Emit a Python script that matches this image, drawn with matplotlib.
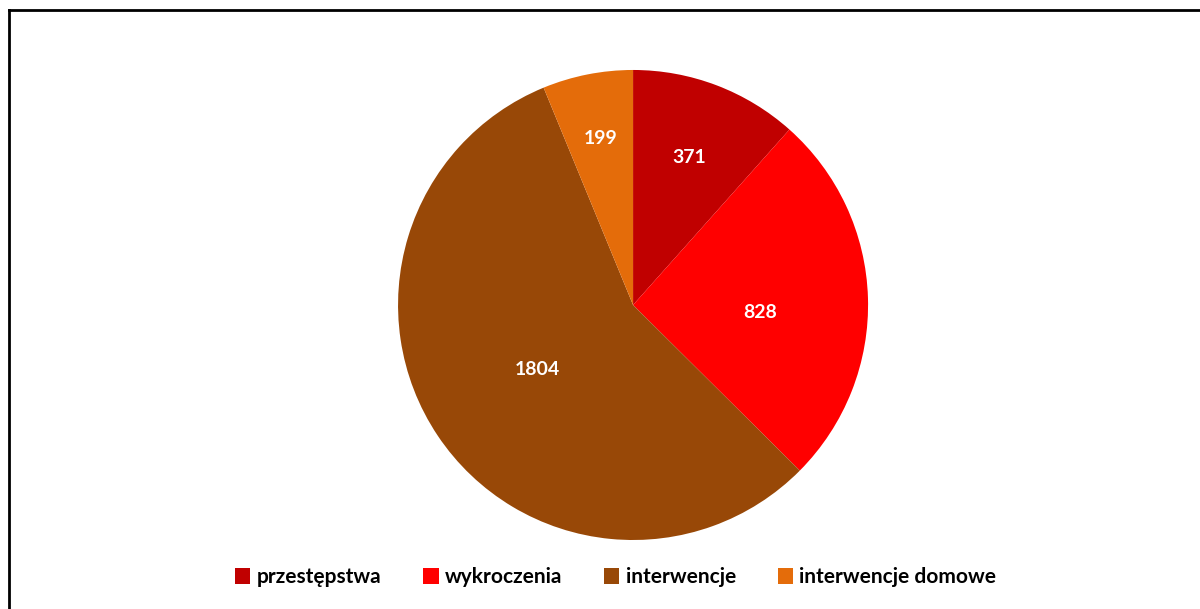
import matplotlib.pyplot as plt
import numpy as np
from matplotlib.lines import Line2D

categories = ["przestępstwa", "wykroczenia", "interwencje", "interwencje domowe"]
values = [371, 828, 1804, 199]
colors = ["#C00000", "#FF0000", "#984807", "#E46C0A"]
label_dist = [0.67, 0.54, 0.49, 0.72]
label_turn = [0, -5, 0, 0]

plt.rcParams['font.family'] = ['Lato', 'DejaVu Sans']

fig = plt.figure(figsize=(12, 6.09), dpi=100)
ax = fig.add_axes([0.3317, 0.1133, 0.3917, 0.7718])

wedges, _ = ax.pie(values, colors=colors, startangle=90, counterclock=False,
                   radius=1.0)
ax.set_xlim(-1, 1)
ax.set_ylim(-1, 1)
ax.set_aspect('equal')

for w, v, d, t in zip(wedges, values, label_dist, label_turn):
    ang = np.deg2rad((w.theta1 + w.theta2) / 2 + t)
    ax.text(d * np.cos(ang), d * np.sin(ang), str(v), ha='center', va='center',
            color='white', fontsize=14, fontweight='bold')

fig.legend(wedges, categories, loc='center', bbox_to_anchor=(0.513, 0.052),
           ncol=4, frameon=False, handlelength=0.75, handleheight=0.75,
           handletextpad=0.3, columnspacing=2.0, prop={'weight': 'bold', 'size': 15})

# chart border (left and top visible)
fig.add_artist(Line2D([9 / 1200, 9 / 1200], [0, 1 - 10 / 609], color='black', lw=2))
fig.add_artist(Line2D([9 / 1200, 1], [1 - 10 / 609, 1 - 10 / 609], color='black', lw=2))

fig.savefig("out.png", dpi=100)
